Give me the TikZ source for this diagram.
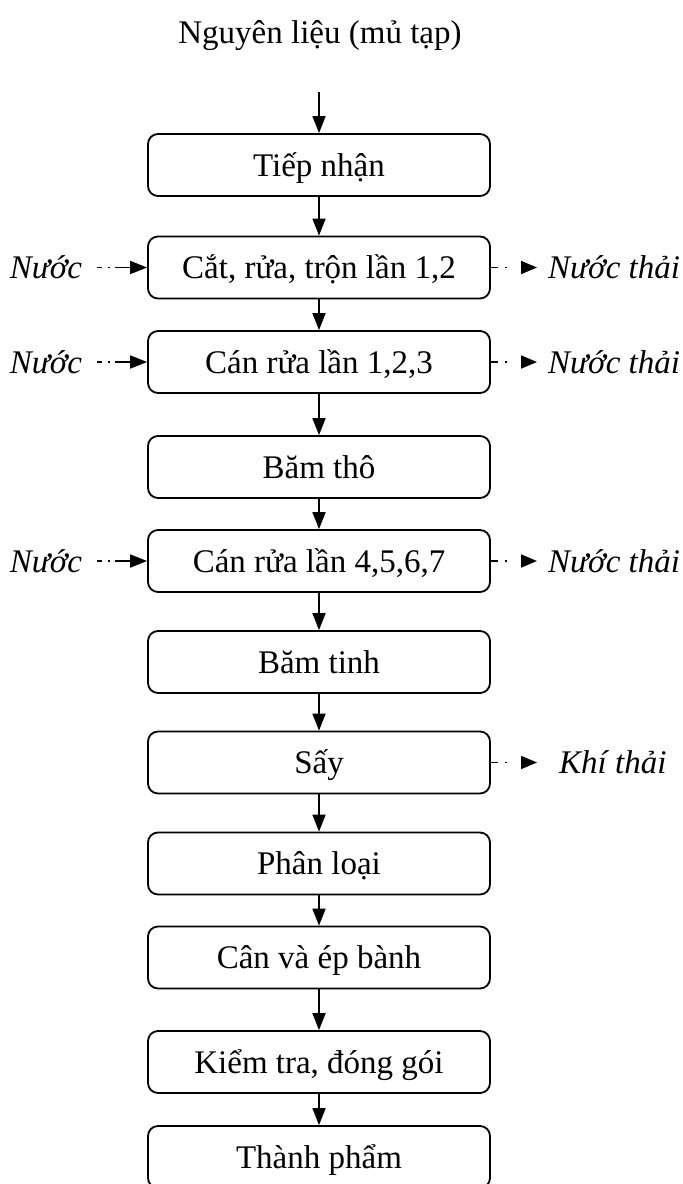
\documentclass[tikz,border=0pt]{standalone}
\usepackage{fontspec}
\setmainfont{Liberation Serif}
\usetikzlibrary{arrows.meta}
\begin{document}
\begin{tikzpicture}[x=1pt,y=-1pt,
  stage/.style={draw, line width=1.8pt, rounded corners=10pt,
    minimum width=342pt, minimum height=62pt, inner sep=0pt,
    text height=22pt, text depth=0pt,
    font=\fontsize{33}{40}\selectfont},
  sidetext/.style={inner sep=0pt, text height=22pt, text depth=0pt,
    font=\fontsize{33}{40}\selectfont\itshape},
  flow/.style={line width=1.8pt, -{Triangle[length=17pt,width=13pt]}},
  infeed/.style={line width=1.8pt, dash pattern=on 5pt off 6pt on 2pt off 5pt on 40pt,
    -{Triangle[length=17pt,width=13pt]}},
  outfeed/.style={line width=1.8pt, dash pattern=on 7pt off 7pt on 2.5pt off 20pt,
    -{Triangle[length=16pt,width=13pt]}}
]
\useasboundingbox (0,0) rectangle (683,1184);
\clip (0,0) rectangle (683,1184);

% title and entry point
\node[inner sep=0pt, text height=22pt, text depth=0pt,
  font=\fontsize{33}{40}\selectfont] (title) at (320,32) {Nguyên liệu (mủ tạp)};
\coordinate (entry) at (319,92);

% process stages
\node[stage] (b1)  at (319,165)   {Tiếp nhận};
\node[stage] (b2)  at (319,267.5) {Cắt, rửa, trộn lần 1,2};
\node[stage] (b3)  at (319,362)   {Cán rửa lần 1,2,3};
\node[stage] (b4)  at (319,467)   {Băm thô};
\node[stage] (b5)  at (319,561)   {Cán rửa lần 4,5,6,7};
\node[stage] (b6)  at (319,662)   {Băm tinh};
\node[stage] (b7)  at (319,762.5) {Sấy};
\node[stage] (b8)  at (319,863.5) {Phân loại};
\node[stage] (b9)  at (319,957.5) {Cân và ép bành};
\node[stage] (b10) at (319,1062)  {Kiểm tra, đóng gói};
\node[stage] (b11) at (319,1157)  {Thành phẩm};

% main flow
\draw[flow] (entry) -- (b1);
\draw[flow] (b1) -- (b2);
\draw[flow] (b2) -- (b3);
\draw[flow] (b3) -- (b4);
\draw[flow] (b4) -- (b5);
\draw[flow] (b5) -- (b6);
\draw[flow] (b6) -- (b7);
\draw[flow] (b7) -- (b8);
\draw[flow] (b8) -- (b9);
\draw[flow] (b9) -- (b10);
\draw[flow] (b10) -- (b11);

% water inputs
\node[sidetext, inner xsep=15pt] (w2) at (46,267.5) {Nước};
\node[sidetext, inner xsep=15pt] (w3) at (46,362)   {Nước};
\node[sidetext, inner xsep=15pt] (w5) at (46,561)   {Nước};
\draw[infeed] (w2.east) -- (b2.west);
\draw[infeed] (w3.east) -- (b3.west);
\draw[infeed] (w5.east) -- (b5.west);

% waste outputs
\coordinate (o2) at (537,267.5);
\coordinate (o3) at (537,362);
\coordinate (o5) at (537,561);
\coordinate (o7) at (537,762.5);
\node[sidetext, anchor=west] (r2) at (548,267.5) {Nước thải};
\node[sidetext, anchor=west] (r3) at (548,362)   {Nước thải};
\node[sidetext, anchor=west] (r5) at (548,561)   {Nước thải};
\node[sidetext, anchor=west] (r7) at (559,762.5) {Khí thải};
\draw[outfeed] (b2.east) -- (o2);
\draw[outfeed] (b3.east) -- (o3);
\draw[outfeed] (b5.east) -- (o5);
\draw[outfeed] (b7.east) -- (o7);
\end{tikzpicture}
\end{document}
